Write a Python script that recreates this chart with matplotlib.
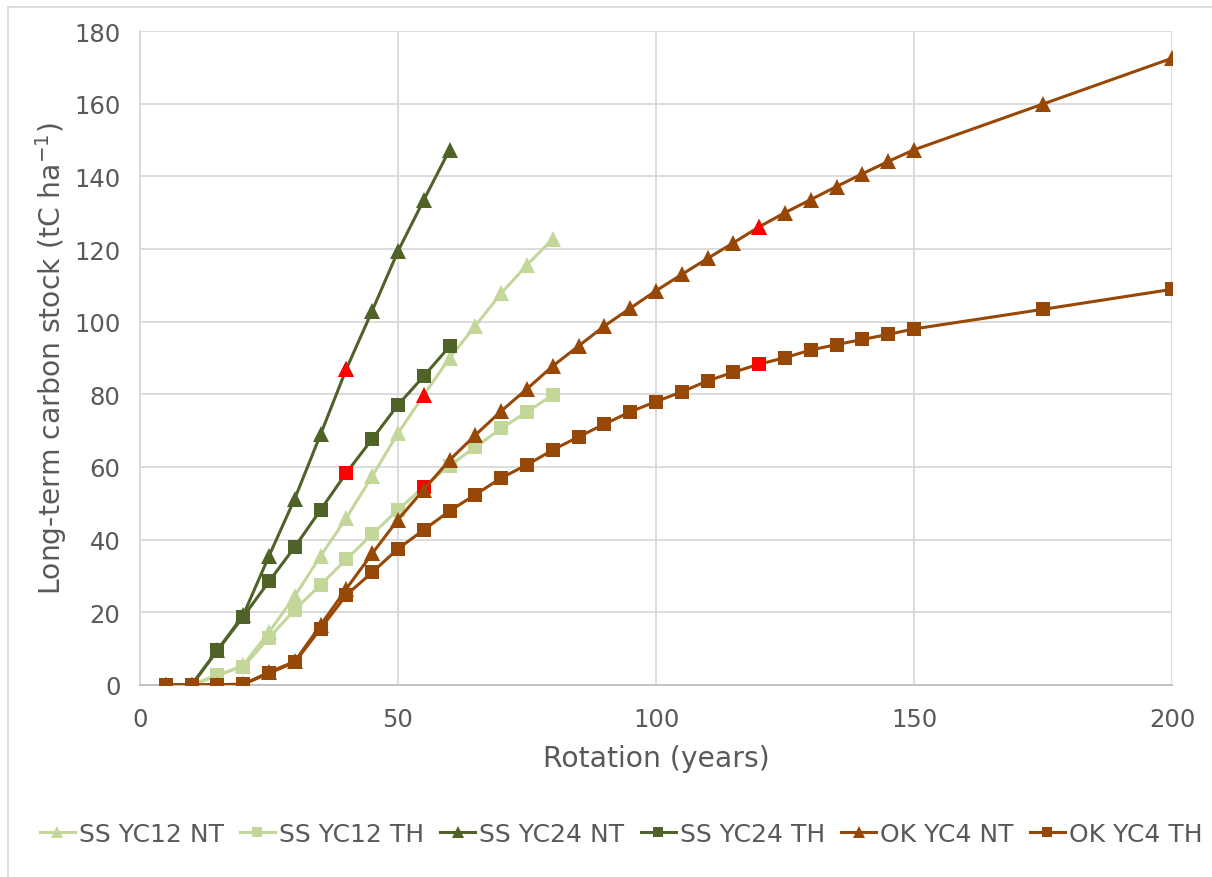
import matplotlib
matplotlib.use("Agg")
import matplotlib.pyplot as plt
from matplotlib.patches import Rectangle

# Rotation ages (years)
ages_ss12 = [5, 10, 15, 20, 25, 30, 35, 40, 45, 50, 55, 60, 65, 70, 75, 80]
ages_ss24 = [5, 10, 15, 20, 25, 30, 35, 40, 45, 50, 55, 60]
ages_ok = [5, 10, 15, 20, 25, 30, 35, 40, 45, 50, 55, 60, 65, 70, 75, 80,
           85, 90, 95, 100, 105, 110, 115, 120, 125, 130, 135, 140, 145, 150,
           175, 200]

# Long-term carbon stock (tC/ha)
ss_yc12_nt = [0, 0, 2.5, 5.5, 14.5, 24.5, 35.5, 46.0, 57.5, 69.3, 79.8, 90.0,
              98.9, 107.8, 115.6, 122.8]
ss_yc12_th = [0, 0, 2.8, 5.0, 13.0, 20.7, 27.6, 34.6, 41.5, 48.2, 54.6, 60.4,
              65.5, 70.6, 75.2, 79.8]
ss_yc24_nt = [0, 0, 9.6, 19.2, 35.5, 51.3, 69.0, 87.0, 103.0, 119.4, 133.5,
              147.3]
ss_yc24_th = [0, 0, 9.5, 18.8, 28.5, 38.0, 48.2, 58.4, 67.7, 77.1, 85.0, 93.2]
ok_yc4_nt = [0, 0, 0.1, 0.2, 3.5, 6.5, 16.5, 26.5, 36.2, 45.5, 53.8, 61.9,
             68.8, 75.4, 81.5, 87.8, 93.3, 98.8, 103.7, 108.5, 113.0, 117.4,
             121.7, 126.1, 130.0, 133.6, 137.2, 140.7, 144.1, 147.3, 159.9,
             172.5]
ok_yc4_th = [0, 0, 0.1, 0.2, 3.2, 6.3, 15.5, 24.8, 31.0, 37.5, 42.7, 47.9,
             52.4, 57.0, 60.6, 64.7, 68.3, 71.8, 75.2, 78.0, 80.7, 83.7, 86.1,
             88.3, 90.1, 92.2, 93.7, 95.1, 96.5, 98.0, 103.4, 108.9]

labels = ["SS YC12 NT", "SS YC12 TH", "SS YC24 NT", "SS YC24 TH",
          "OK YC4 NT", "OK YC4 TH"]
# Rotation age marked in red on each curve
marked_age = [55, 55, 40, 40, 120, 120]

LIGHT_GREEN = "#c4d79b"
DARK_GREEN = "#4f6228"
BROWN = "#974706"
RED = "#ff0000"
TEXT = "#595959"

series = [
    (ages_ss12, ss_yc12_nt, LIGHT_GREEN, "^"),
    (ages_ss12, ss_yc12_th, LIGHT_GREEN, "s"),
    (ages_ss24, ss_yc24_nt, DARK_GREEN, "^"),
    (ages_ss24, ss_yc24_th, DARK_GREEN, "s"),
    (ages_ok, ok_yc4_nt, BROWN, "^"),
    (ages_ok, ok_yc4_th, BROWN, "s"),
]

plt.rcParams["font.family"] = ["DejaVu Sans"]

fig = plt.figure(figsize=(12.12, 8.78), dpi=100)
ax = fig.add_axes([140 / 1212, 1 - 686 / 878, 1032 / 1212, 654 / 878])

handles = []
for (x, y, color, mk), lab, age in zip(series, labels, marked_age):
    ms = 11.5 if mk == "^" else 9.5
    ax.plot(x, y, color=color, lw=2.2, marker=mk, markersize=ms,
            markeredgewidth=0, label=lab, zorder=3, solid_joinstyle="round")
    i = x.index(age)
    ax.plot([x[i]], [y[i]], linestyle="none", marker=mk, markersize=ms,
            color=RED, markeredgewidth=0, zorder=3)
    h, = ax.plot([], [], color=color, lw=2.2, marker=mk,
                 markersize=9 if mk == "^" else 7.5, markeredgewidth=0)
    handles.append(h)

ax.set_xlim(0, 200)
ax.set_ylim(0, 180)
ax.set_xticks([0, 50, 100, 150, 200])
ax.set_yticks(range(0, 181, 20))
ax.grid(True, color="#d9d9d9", lw=1.3, zorder=0)
ax.set_axisbelow(True)
for side in ["top", "right"]:
    ax.spines[side].set_visible(False)
ax.spines["left"].set_color("#d9d9d9")
ax.spines["left"].set_linewidth(1.3)
ax.spines["bottom"].set_color("#bfbfbf")
ax.spines["bottom"].set_linewidth(1.3)
ax.tick_params(length=0, labelsize=17.5, labelcolor=TEXT, pad=14)
ax.tick_params(axis="x", pad=16)

ax.set_xlabel("Rotation (years)", fontsize=20.3, color=TEXT, labelpad=9)
ax.set_ylabel(r"Long-term carbon stock (tC ha$^{\mathregular{-1}}$)",
              fontsize=20.3, color=TEXT, labelpad=4)

fig.legend(handles, labels, loc="center", ncol=6,
           bbox_to_anchor=(621 / 1212, 1 - 835 / 878), frameon=False,
           fontsize=18, handlelength=1.4, handletextpad=0.16,
           columnspacing=0.65, labelcolor=TEXT)

fig.patches.append(Rectangle((8 / 1212, -0.1), 1.2, 1 - 8 / 878 + 0.1,
                             transform=fig.transFigure, fill=False,
                             edgecolor="#d9d9d9", lw=1.3))

fig.savefig("out.png", dpi=100)
